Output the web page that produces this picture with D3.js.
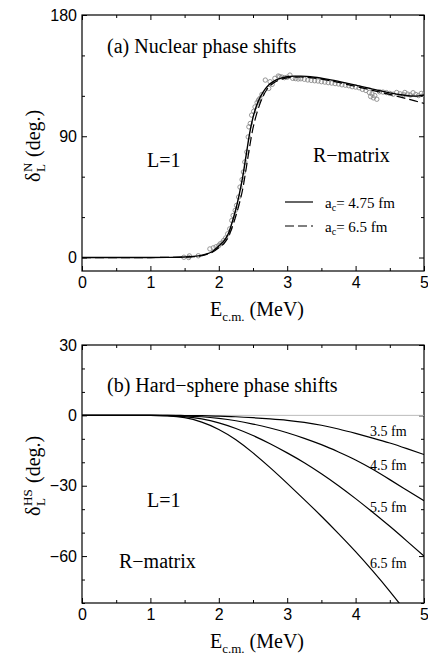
<!DOCTYPE html>
<html>
<head>
<meta charset="utf-8">
<script src="https://cdn.jsdelivr.net/npm/d3@7"></script>
<style>
  body { margin: 0; background: #fff; }
  svg { display: block; }
  .serif { font-family: "Liberation Serif", "Times New Roman", Times, serif; fill: #000; }
  .tick text { font-family: "Liberation Sans", Arial, Helvetica, sans-serif; font-size: 16px; fill: #000; }
</style>
</head>
<body>
<div id="chart-area"></div>
<script>
// ---- data ----
var xTicks = [0, 1, 2, 3, 4, 5];
var xMinor = [0.5, 1.5, 2.5, 3.5, 4.5];

// (a) nuclear phase shifts
var nucTicks = [0, 90, 180];
var nucMinor = [30, 60, 120, 150];
var nucE =      [0, 0.5, 1, 1.25, 1.5, 1.7, 1.8, 1.9, 2.0, 2.1, 2.15, 2.2, 2.25, 2.3, 2.35, 2.4, 2.45, 2.5, 2.55, 2.6, 2.65, 2.7, 2.8, 2.9, 3.0, 3.1, 3.2, 3.4, 3.6, 3.8, 4.0, 4.2, 4.4, 4.6, 4.8, 4.9, 5.0];
var solid475 =  [0, 0, 0, 0.1, 0.4, 1.2, 2.3, 4.3, 8.5, 14, 19, 27, 36, 47, 60, 76, 92, 104, 112.5, 118.5, 123, 126.5, 130.8, 133, 134.2, 134.6, 134.6, 133.8, 132.2, 130.2, 128, 125.6, 123.3, 121.3, 119.9, 119.8, 120.6];
var dashed65 =  [0, 0, 0, 0.1, 0.3, 1.0, 2.0, 3.8, 7.2, 12, 16.5, 23, 31, 40, 51, 66, 82, 96, 106, 114, 120, 124.5, 129.5, 132, 133.3, 133.9, 134.0, 133.2, 131.5, 129.4, 127, 124.6, 122.2, 119.8, 117.2, 115.8, 114.4];

var expE = [1.49, 1.56, 1.57, 1.70, 1.87, 1.92, 1.96, 2.00, 2.02, 2.05, 2.07, 2.10, 2.13, 2.16, 2.19, 2.21, 2.24, 2.26, 2.29, 2.31, 2.34, 2.36, 2.38, 2.41, 2.43, 2.44, 2.46, 2.48, 2.51, 2.53, 2.56, 2.58,
  2.60, 2.63, 2.68, 2.73, 2.75, 2.78, 2.82, 2.87, 2.89, 2.92, 2.96, 3.00, 3.04, 3.08, 3.12, 3.16, 3.20, 3.25, 3.30, 3.35, 3.40, 3.45, 3.50, 3.55, 3.60, 3.65, 3.70, 3.75, 3.80, 3.85, 3.90, 3.95,
  4.00, 4.05, 4.10, 4.15, 4.20, 4.22, 4.24, 4.26, 4.28, 4.31, 4.35, 4.40, 4.45, 4.50, 4.55, 4.60, 4.65, 4.70, 4.72, 4.76, 4.80, 4.84, 4.88, 4.92, 4.96, 5.00];
var expDelta = [0.2, 0, 1.2, 1.3, 6.4, 7.2, 8.0, 8.9, 10.2, 11, 12.6, 14.5, 17.6, 21.3, 27.5, 31.2, 35, 38.7, 44.9, 52.3, 57.8, 63.5, 70.9, 78.3, 89.5, 97, 99.5, 105.7, 108.5, 111.8, 115, 116.8,
  118, 121, 131.7, 125.5, 130.5, 128.5, 133, 134.7, 134.2, 134, 133.5, 133.8, 135.4, 133, 132.8, 132.5, 132.7, 132.3, 131.8, 131.5, 131.2, 131, 130.5, 130.2, 129.8, 129.5, 129.1, 128.8, 128.2, 127.9, 127.5, 126.8,
  126.5, 126, 124.8, 124, 122.5, 119.5, 121.5, 118.5, 120.2, 117.5, 123, 122.8, 122.4, 121.8, 121.2, 122.5, 121.5, 120.8, 122.5, 121.3, 120.6, 122.3, 121, 120.2, 121.8, 121];

// (b) hard-sphere phase shifts
var hsTicks = [-60, -30, 0, 30];
var hsMinor = [-80, -70, -50, -40, -20, -10, 10, 20];
var hsE =    [0, 0.5, 1.0, 1.25, 1.5, 1.75, 2.0, 2.25, 2.5, 2.75, 3.0, 3.25, 3.5, 3.75, 4.0, 4.25, 4.5, 4.75, 5.0];
var hs35 =   [0, 0, 0, 0, -0.05, -0.15, -0.35, -0.6, -1.0, -1.5, -2.1, -3.0, -4.2, -5.8, -7.7, -9.7, -11.8, -14.2, -16.7];
var hs45 =   [0, 0, 0, -0.02, -0.2, -0.6, -1.3, -2.3, -3.7, -5.4, -7.4, -9.8, -12.5, -15.6, -19.0, -23.0, -27.4, -31.9, -36.4];
var hs55 =   [0, 0, 0, -0.1, -0.5, -1.5, -3.2, -5.6, -8.6, -12.1, -16.0, -20.2, -24.9, -30.0, -35.5, -41.3, -47.3, -53.6, -60.0];
var hs65 =   [0, 0, 0, -0.2, -1.0, -2.9, -6.0, -10.4, -16.0, -22.3, -29.0, -35.9, -43.0, -50.4, -58.1, -66.3, -75.0, -84.3, -94.0];
var hsLabels = ["3.5 fm", "4.5 fm", "5.5 fm", "6.5 fm"];

// ---- layout ----
var W = 428, H = 660;
var left = 82, right = 424;

var svg = d3.select("#chart-area")
    .append("svg")
    .attr("width", W)
    .attr("height", H);

var x = d3.scaleLinear().domain([0, 5]).range([left, right]);

function frame(y, top, bottom, majors, minors, clipId) {
    var g = svg.append("g");
    g.append("clipPath").attr("id", clipId)
        .append("rect").attr("x", left).attr("y", top)
        .attr("width", right - left).attr("height", bottom - top);

    // bottom axis, labelled
    g.append("g").attr("transform", "translate(0," + bottom + ")")
        .call(d3.axisBottom(x).tickValues(xTicks).tickSize(-5).tickPadding(6).tickFormat(d3.format("d")));
    g.append("g").attr("transform", "translate(0," + bottom + ")")
        .call(d3.axisBottom(x).tickValues(xMinor).tickSize(-3).tickFormat(""));
    // top axis, mirror
    g.append("g").attr("transform", "translate(0," + top + ")")
        .call(d3.axisTop(x).tickValues(xTicks).tickSize(-5).tickFormat(""));
    g.append("g").attr("transform", "translate(0," + top + ")")
        .call(d3.axisTop(x).tickValues(xMinor).tickSize(-3).tickFormat(""));
    // left axis
    g.append("g").attr("transform", "translate(" + left + ",0)")
        .call(d3.axisLeft(y).tickValues(majors).tickSize(-5).tickPadding(5)
            .tickFormat(function (d) { return d < 0 ? "\u2212" + Math.abs(d) : d; }));
    g.append("g").attr("transform", "translate(" + left + ",0)")
        .call(d3.axisLeft(y).tickValues(minors).tickSize(-3).tickFormat(""));
    // right axis, mirror
    g.append("g").attr("transform", "translate(" + right + ",0)")
        .call(d3.axisRight(y).tickValues(majors).tickSize(-5).tickFormat(""));
    g.append("g").attr("transform", "translate(" + right + ",0)")
        .call(d3.axisRight(y).tickValues(minors).tickSize(-3).tickFormat(""));

    g.selectAll(".domain").remove();
    g.selectAll(".tick line").attr("stroke", "#000").attr("stroke-width", 1);

    g.append("rect")
        .attr("x", left).attr("y", top)
        .attr("width", right - left).attr("height", bottom - top)
        .attr("fill", "none").attr("stroke", "#000").attr("stroke-width", 1.2);

    // x axis title
    var t = g.append("text").attr("class", "serif")
        .attr("x", 257).attr("y", bottom + 45)
        .attr("text-anchor", "middle").attr("font-size", 20);
    t.append("tspan").text("E");
    t.append("tspan").attr("font-size", 13).attr("dy", 5).text("c.m.");
    t.append("tspan").attr("dy", -5).text(" (MeV)");
    return g;
}

function yTitle(cx, cy, sup) {
    var g = svg.append("g").attr("transform", "translate(" + cx + "," + cy + ") rotate(-90)");
    g.append("text").attr("class", "serif").attr("font-size", 20).attr("x", 0).attr("y", 0).text("\u03b4");
    g.append("text").attr("class", "serif").attr("font-size", 13).attr("x", 10).attr("y", -8).text(sup);
    g.append("text").attr("class", "serif").attr("font-size", 13).attr("x", 10).attr("y", 5).text("L");
    var supW = sup.length > 1 ? 19 : 11;
    g.append("text").attr("class", "serif").attr("font-size", 20).attr("x", 10 + supW + 4).attr("y", 0).text("(deg.)");
}

function label(px, py, size, str) {
    return svg.append("text").attr("class", "serif")
        .attr("x", px).attr("y", py).attr("font-size", size).text(str);
}

// ---- panel (a) ----
var y = d3.scaleLinear().domain([-10, 180]).range([271, 15]);
var ga = frame(y, 15, 271, nucTicks, nucMinor, "clipA");

var lineA = d3.line()
    .x(function (d, i) { return x(nucE[i]); })
    .y(function (d) { return y(d); })
    .curve(d3.curveMonotoneX);

var pa = ga.append("g").attr("clip-path", "url(#clipA)");
pa.selectAll("circle")
    .data(expDelta)
    .enter().append("circle")
    .attr("cx", function (d, i) { return x(expE[i]); })
    .attr("cy", function (d) { return y(d); })
    .attr("r", 2.2)
    .attr("fill", "none")
    .attr("stroke", "#8a8a8a")
    .attr("stroke-width", 0.9);

pa.append("path").attr("d", lineA(solid475))
    .attr("fill", "none").attr("stroke", "#000").attr("stroke-width", 1.4);
pa.append("path").attr("d", lineA(dashed65))
    .attr("fill", "none").attr("stroke", "#000").attr("stroke-width", 1.2)
    .attr("stroke-dasharray", "9,4");

label(107, 53, 20, "(a) Nuclear phase shifts");
label(147, 167, 20, "L=1");
label(313, 162, 20, "R\u2212matrix");

// legend
var legend = [{ lbl: "= 4.75 fm", dash: null, yy: 202 }, { lbl: "= 6.5 fm", dash: "9,4", yy: 226 }];
legend.forEach(function (l) {
    svg.append("line").attr("x1", 285).attr("x2", 313).attr("y1", l.yy).attr("y2", l.yy)
        .attr("stroke", "#000").attr("stroke-width", 1.2)
        .attr("stroke-dasharray", l.dash);
    var t = svg.append("text").attr("class", "serif").attr("x", 325).attr("y", l.yy + 6).attr("font-size", 15);
    t.append("tspan").text("a");
    t.append("tspan").attr("font-size", 10).attr("dy", 3).text("c");
    t.append("tspan").attr("dy", -3).text(l.lbl);
});

yTitle(40, 182, "N");

// ---- panel (b) ----
y = d3.scaleLinear().domain([-80, 30]).range([603, 345]);
var gb = frame(y, 345, 603, hsTicks, hsMinor, "clipB");

var pb = gb.append("g").attr("clip-path", "url(#clipB)");
pb.append("line")
    .attr("x1", x(0)).attr("x2", x(5)).attr("y1", y(0)).attr("y2", y(0))
    .attr("stroke", "#bbb").attr("stroke-width", 1);

var lineB = d3.line()
    .x(function (d, i) { return x(hsE[i]); })
    .y(function (d) { return y(d); })
    .curve(d3.curveNatural);

[hs35, hs45, hs55, hs65].forEach(function (s) {
    pb.append("path").attr("d", lineB(s))
        .attr("fill", "none").attr("stroke", "#000").attr("stroke-width", 1.2);
});

label(107, 392, 20, "(b) Hard\u2212sphere phase shifts");
label(147, 507, 20, "L=1");
label(119, 568, 20, "R\u2212matrix");
var hsLabelY = [436, 470, 512, 568];
hsLabels.forEach(function (s, i) { label(370, hsLabelY[i], 14, s); });

yTitle(40, 516, "HS");
</script>
</body>
</html>
